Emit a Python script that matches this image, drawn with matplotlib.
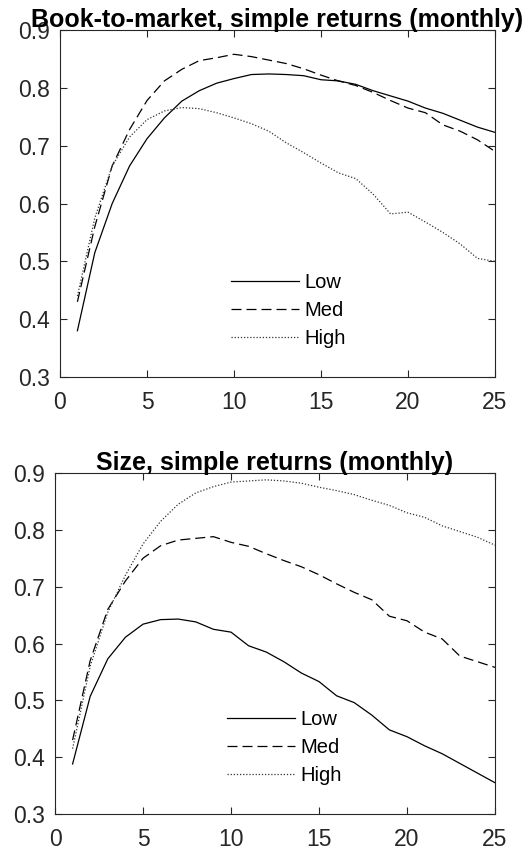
import matplotlib
matplotlib.use('Agg')
import matplotlib.pyplot as plt

plt.rcParams['font.family'] = ['Liberation Sans', 'DejaVu Sans']

horizon = list(range(1, 26))

# Book-to-market, simple returns
btm_low = [0.38, 0.515, 0.60, 0.665, 0.712, 0.748, 0.777, 0.795, 0.808, 0.816,
           0.823, 0.824, 0.823, 0.821, 0.814, 0.812, 0.806, 0.795, 0.786, 0.777,
           0.765, 0.756, 0.744, 0.732, 0.723]
btm_med = [0.43, 0.56, 0.665, 0.728, 0.778, 0.812, 0.832, 0.847, 0.852, 0.858,
           0.854, 0.848, 0.842, 0.833, 0.822, 0.812, 0.804, 0.792, 0.778, 0.765,
           0.757, 0.736, 0.725, 0.710, 0.690]
btm_high = [0.44, 0.575, 0.665, 0.715, 0.745, 0.760, 0.766, 0.764, 0.757, 0.748,
            0.738, 0.725, 0.705, 0.688, 0.670, 0.653, 0.643, 0.616, 0.582, 0.585,
            0.568, 0.550, 0.530, 0.505, 0.500]

# Size, simple returns
size_low = [0.388, 0.507, 0.573, 0.611, 0.634, 0.642, 0.643, 0.638, 0.625, 0.620,
            0.596, 0.585, 0.568, 0.548, 0.533, 0.508, 0.496, 0.474, 0.448, 0.436,
            0.420, 0.406, 0.389, 0.372, 0.355]
size_med = [0.43, 0.57, 0.66, 0.71, 0.75, 0.772, 0.782, 0.785, 0.788, 0.778,
            0.771, 0.758, 0.746, 0.735, 0.721, 0.705, 0.690, 0.677, 0.648, 0.640,
            0.620, 0.608, 0.578, 0.568, 0.558]
size_high = [0.415, 0.56, 0.655, 0.72, 0.775, 0.815, 0.845, 0.865, 0.876, 0.884,
             0.886, 0.888, 0.886, 0.882, 0.875, 0.869, 0.862, 0.852, 0.843, 0.830,
             0.822, 0.807, 0.797, 0.787, 0.773]

labels = ['Low', 'Med', 'High']
titles = ['Book-to-market, simple returns (monthly)', 'Size, simple returns (monthly)']
xticks = [0, 5, 10, 15, 20, 25]
yticks = [0.3, 0.4, 0.5, 0.6, 0.7, 0.8, 0.9]


def draw_panel(ax, low, med, high, title, leg_x):
    ax.plot(horizon, low, color='black', linestyle='-', linewidth=0.9, label=labels[0])
    ax.plot(horizon, med, color='black', linestyle=(0, (8, 4)), linewidth=0.9, label=labels[1])
    ax.plot(horizon, high, color='#333333', linestyle=(0, (1, 1.5)), linewidth=0.9, label=labels[2])
    ax.set_xlim(0, 25)
    ax.set_ylim(0.3, 0.9)
    ax.set_xticks(xticks)
    ax.set_yticks(yticks)
    ax.set_yticklabels([f'{v:.1f}' for v in yticks])
    ax.tick_params(direction='in', top=True, right=True, length=5, width=0.8,
                   labelsize=16.5, colors='#262626')
    ax.tick_params(axis='x', pad=10)
    ax.tick_params(axis='y', pad=7)
    for s in ax.spines.values():
        s.set_color('#262626')
        s.set_linewidth(0.8)
    ax.set_title(title, fontsize=18, fontweight='bold', pad=2)
    # legend without frame, placed inside the lower middle of the panel
    ax.legend(loc='lower left', bbox_to_anchor=(leg_x, 0.06), frameon=False,
              fontsize=14.5, handlelength=3.35, handletextpad=0.3, labelspacing=0.45,
              borderaxespad=0)


fig = plt.figure(figsize=(5.3, 8.47), dpi=100)
ax1 = fig.add_axes([60 / 530, 1 - 377 / 847, 435 / 530, 347 / 847])
ax2 = fig.add_axes([55 / 530, 1 - 814 / 847, 440 / 530, 341 / 847])

draw_panel(ax1, btm_low, btm_med, btm_high, titles[0], 0.375)
draw_panel(ax2, size_low, size_med, size_high, titles[1], 0.373)

fig.savefig('out.png', dpi=100)
